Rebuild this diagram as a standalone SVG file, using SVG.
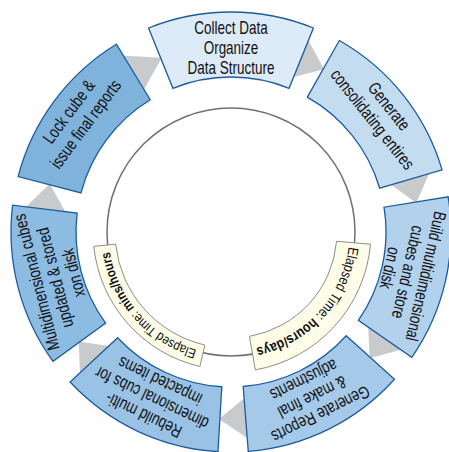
<svg xmlns="http://www.w3.org/2000/svg" width="449" height="452" viewBox="0 0 449 452">
<defs>
<style>
.seg{stroke:#1d5c9c;stroke-width:1.3}
.arr{fill:#c9cacc}
.lbl{font-family:"Liberation Sans",Arial,sans-serif;font-size:17.5px;fill:#111111;text-anchor:middle}
.band{fill:#fefde8;stroke:#8c8c8c;stroke-width:1}
.bt{font-family:"Liberation Sans",Arial,sans-serif;fill:#111111;text-anchor:middle}
</style>
<path id="arcR" d="M349.05,242.33 A118.5,118.5 0 0 1 251.58,348.70"/>
<path id="arcL" d="M203.40,351.56 A122.5,122.5 0 0 1 108.97,244.83"/>
</defs>
<rect width="449" height="452" fill="#ffffff"/>
<g id="connectors">
<polygon class="arr" points="143.28,91.07 121.08,55.41 161.67,57.79"/>
<polygon class="arr" points="291.84,77.55 307.23,38.47 324.18,69.29"/>
<polygon class="arr" points="389.83,183.74 430.02,171.53 416.24,202.99"/>
<polygon class="arr" points="368.13,325.55 402.83,349.21 369.68,358.19"/>
<polygon class="arr" points="245.47,397.37 249.13,439.21 218.90,419.11"/>
<polygon class="arr" points="110.59,346.27 80.12,375.18 78.73,341.41"/>
<polygon class="arr" points="66.07,213.21 24.34,208.45 49.80,183.79"/>
</g>
<circle id="inner-circle" cx="231" cy="232" r="124" fill="none" stroke="#707070" stroke-width="1.5"/>
<g id="seg1">
<path class="seg" fill="#dcebf7" d="M148.59,28.02 A220,220 0 0 1 313.41,28.02 L289.06,88.29 A155,155 0 0 0 172.94,88.29 Z"/>
<g transform="rotate(0 231 232) translate(231 232) scale(0.77 1)"><text class="lbl"><tspan x="0" y="-198">Collect Data</tspan><tspan x="0" y="-178">Organize</tspan><tspan x="0" y="-158">Data Structure</tspan></text></g>
</g>
<g id="seg2">
<path class="seg" fill="#c4dcf0" d="M339.33,40.52 A220,220 0 0 1 442.05,169.89 L379.69,188.24 A155,155 0 0 0 307.33,97.09 Z"/>
<g transform="rotate(51.5 231 232) translate(231 232) scale(0.77 1)"><text class="lbl"><tspan x="0" y="-196">Generate</tspan><tspan x="0" y="-175">consolidating entires</tspan></text></g>
</g>
<g id="seg3">
<path class="seg" fill="#b1d1ec" d="M448.17,196.83 A220,220 0 0 1 411.76,357.40 L358.36,320.35 A155,155 0 0 0 384.01,207.22 Z"/>
<g transform="rotate(102.8 231 232) translate(231 232) scale(0.76 1)"><text class="lbl"><tspan x="0" y="-194">Build multidimensional</tspan><tspan x="0" y="-175.5">cubes and store</tspan><tspan x="0" y="-157">on disk</tspan></text></g>
</g>
<g id="seg4">
<path class="seg" fill="#a5c9e8" d="M394.49,379.21 A220,220 0 0 1 248.26,451.32 L243.16,386.52 A155,155 0 0 0 346.19,335.72 Z"/>
<g transform="rotate(153.8 231 232) translate(231 232) scale(0.77 1)"><text class="lbl"><tspan x="0" y="-197">Generate Reports</tspan><tspan x="0" y="-178">&amp; make final</tspan><tspan x="0" y="-159">adjustments</tspan></text></g>
</g>
<g id="seg5">
<path class="seg" fill="#99c2e5" d="M217.95,451.61 A220,220 0 0 1 70.10,382.04 L117.64,337.71 A155,155 0 0 0 221.81,386.73 Z"/>
<g transform="rotate(205.5 231 232) translate(231 232) scale(0.77 1)"><text class="lbl"><tspan x="0" y="-197">Rebuild multi-</tspan><tspan x="0" y="-178">dimensional cubs for</tspan><tspan x="0" y="-159">impacted items</tspan></text></g>
</g>
<g id="seg6">
<path class="seg" fill="#8cbce1" d="M53.02,361.31 A220,220 0 0 1 12.64,205.19 L77.15,213.11 A155,155 0 0 0 105.60,323.11 Z"/>
<g transform="rotate(255.5 231 232) translate(231 232) scale(0.77 1)"><text class="lbl"><tspan x="0" y="-195">Multidimensional cubes</tspan><tspan x="0" y="-176">updated &amp; stored</tspan><tspan x="0" y="-157">xon disk</tspan></text></g>
</g>
<g id="seg7">
<path class="seg" fill="#7fb3dc" d="M18.10,176.54 A220,220 0 0 1 116.38,44.22 L150.24,99.70 A155,155 0 0 0 81.00,192.93 Z"/>
<g transform="rotate(306.6 231 232) translate(231 232) scale(0.77 1)"><text class="lbl"><tspan x="0" y="-196">Lock cube &amp;</tspan><tspan x="0" y="-175">issue final reports</tspan></text></g>
</g>
<g id="band-right">
<path class="band" d="M336.60,241.24 L370.47,244.20 A140,140 0 0 1 255.31,369.87 L249.41,336.39 A106,106 0 0 0 336.60,241.24 Z"/>
<text class="bt" font-size="14.5"><textPath href="#arcR" startOffset="50%" textLength="146" lengthAdjust="spacingAndGlyphs">Elapsed Time: <tspan font-weight="bold">hours/days</tspan></textPath></text>
</g>
<g id="band-left">
<path class="band" d="M204.91,345.03 L199.96,366.46 A138,138 0 0 1 93.76,246.43 L115.64,244.13 A116,116 0 0 0 204.91,345.03 Z"/>
<text class="bt" font-size="13.5"><textPath href="#arcL" startOffset="50%" textLength="138" lengthAdjust="spacingAndGlyphs">Elapsed Time: <tspan font-weight="bold">mins/hours</tspan></textPath></text>
</g>
</svg>
